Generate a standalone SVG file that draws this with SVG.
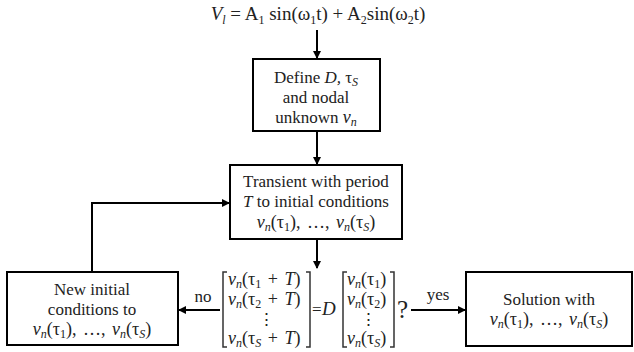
<svg xmlns="http://www.w3.org/2000/svg" width="634" height="352" viewBox="0 0 634 352">
<style>
.c{text-anchor:middle}
.i{font-style:italic}
.s{font-size:12px}
.m{font-size:18px;word-spacing:2px}
.box{fill:#fff;stroke:#000;stroke-width:2}
.ln{fill:none;stroke:#000;stroke-width:2}
.br{fill:none;stroke:#333;stroke-width:1.5}
</style>
<defs>
<marker id="ah" markerWidth="8" markerHeight="8" refX="7" refY="4" orient="auto" markerUnits="userSpaceOnUse">
<path d="M0,0 L8,4 L0,8 Z" fill="#000"/>
</marker>
</defs>
<rect width="634" height="352" fill="#fff"/>
<g font-family="Liberation Serif" style="font-family:'Liberation Serif',serif" font-size="17" fill="#222">
<g id="connectors">
<line class="ln" x1="317" y1="30" x2="317" y2="58" marker-end="url(#ah)"/>
<line class="ln" x1="317" y1="131" x2="317" y2="164" marker-end="url(#ah)"/>
<line class="ln" x1="317" y1="239" x2="317" y2="268" marker-end="url(#ah)"/>
<polyline class="ln" points="92,272 92,203 229,203" marker-end="url(#ah)"/>
<line class="ln" x1="220" y1="310" x2="179" y2="310" marker-end="url(#ah)"/>
<line class="ln" x1="411" y1="310" x2="465" y2="310" marker-end="url(#ah)"/>
<text class="c" x="203" y="302">no</text>
<text class="c" x="438" y="300">yes</text>
</g>
<g id="input">
<text class="c" x="318" y="20" font-size="19"><tspan class="i">V</tspan><tspan class="i s" dy="4">l</tspan><tspan dy="-4"> = A</tspan><tspan class="s" dy="4">1</tspan><tspan dy="-4"> sin(ω</tspan><tspan class="s" dy="4">1</tspan><tspan dy="-4">t) + A</tspan><tspan class="s" dy="4">2</tspan><tspan dy="-4">sin(ω</tspan><tspan class="s" dy="4">2</tspan><tspan dy="-4">t)</tspan></text>
</g>
<g id="define">
<rect class="box" x="253" y="59" width="127" height="72"/>
<text class="c" x="316" y="83">Define <tspan class="i">D,</tspan> τ<tspan class="i s" dy="3">S</tspan></text>
<text class="c" x="316" y="103">and nodal</text>
<text class="c" x="316" y="123">unknown <tspan class="i" font-size="18">v</tspan><tspan class="i s" dy="3">n</tspan></text>
</g>
<g id="transient">
<rect class="box" x="230" y="165" width="172" height="74"/>
<text class="c" x="316" y="187">Transient with period</text>
<text class="c" x="316" y="207"><tspan class="i">T</tspan> to initial conditions</text>
<text class="c m" x="316" y="228"><tspan class="i">v</tspan><tspan class="i s" dy="3">n</tspan><tspan dy="-3">(τ</tspan><tspan class="s" dy="3">1</tspan><tspan dy="-3">), …, </tspan><tspan class="i">v</tspan><tspan class="i s" dy="3">n</tspan><tspan dy="-3">(τ</tspan><tspan class="i s" dy="3">S</tspan><tspan dy="-3">)</tspan></text>
</g>
<g id="newinit">
<rect class="box" x="7" y="272" width="171" height="73"/>
<text class="c" x="92" y="295">New initial</text>
<text class="c" x="92" y="315">conditions to</text>
<text class="c m" x="92" y="335"><tspan class="i">v</tspan><tspan class="i s" dy="3">n</tspan><tspan dy="-3">(τ</tspan><tspan class="s" dy="3">1</tspan><tspan dy="-3">), …, </tspan><tspan class="i">v</tspan><tspan class="i s" dy="3">n</tspan><tspan dy="-3">(τ</tspan><tspan class="i s" dy="3">S</tspan><tspan dy="-3">)</tspan></text>
</g>
<g id="condition">
<path class="br" d="M227,272 H223 V347 H227"/>
<path class="br" d="M306,272 H310 V347 H306"/>
<text class="m" x="228" y="285"><tspan class="i">v</tspan><tspan class="i s" dy="3">n</tspan><tspan dy="-3">(τ</tspan><tspan class="s" dy="3">1</tspan><tspan dy="-3"> + </tspan><tspan class="i">T</tspan>)</text>
<text class="m" x="228" y="305"><tspan class="i">v</tspan><tspan class="i s" dy="3">n</tspan><tspan dy="-3">(τ</tspan><tspan class="s" dy="3">2</tspan><tspan dy="-3"> + </tspan><tspan class="i">T</tspan>)</text>
<text class="c" x="266" y="325">⋮</text>
<text class="m" x="228" y="344"><tspan class="i">v</tspan><tspan class="i s" dy="3">n</tspan><tspan dy="-3">(τ</tspan><tspan class="i s" dy="3">S</tspan><tspan dy="-3"> + </tspan><tspan class="i">T</tspan>)</text>
<text x="312" y="315">=</text>
<text class="i" x="322" y="315" font-size="19">D</text>
<path class="br" d="M347,272 H343 V347 H347"/>
<path class="br" d="M390,272 H394 V347 H390"/>
<text class="m" x="347" y="285"><tspan class="i">v</tspan><tspan class="i s" dy="3">n</tspan><tspan dy="-3">(τ</tspan><tspan class="s" dy="3">1</tspan><tspan dy="-3">)</tspan></text>
<text class="m" x="347" y="305"><tspan class="i">v</tspan><tspan class="i s" dy="3">n</tspan><tspan dy="-3">(τ</tspan><tspan class="s" dy="3">2</tspan><tspan dy="-3">)</tspan></text>
<text class="c" x="368" y="325">⋮</text>
<text class="m" x="347" y="344"><tspan class="i">v</tspan><tspan class="i s" dy="3">n</tspan><tspan dy="-3">(τ</tspan><tspan class="i s" dy="3">S</tspan><tspan dy="-3">)</tspan></text>
<text x="397" y="318" font-size="25">?</text>
</g>
<g id="solution">
<rect class="box" x="466" y="272" width="166" height="74"/>
<text class="c" x="549" y="305">Solution with</text>
<text class="c m" x="549" y="325"><tspan class="i">v</tspan><tspan class="i s" dy="3">n</tspan><tspan dy="-3">(τ</tspan><tspan class="s" dy="3">1</tspan><tspan dy="-3">), …, </tspan><tspan class="i">v</tspan><tspan class="i s" dy="3">n</tspan><tspan dy="-3">(τ</tspan><tspan class="i s" dy="3">S</tspan><tspan dy="-3">)</tspan></text>
</g>
</g>
</svg>
